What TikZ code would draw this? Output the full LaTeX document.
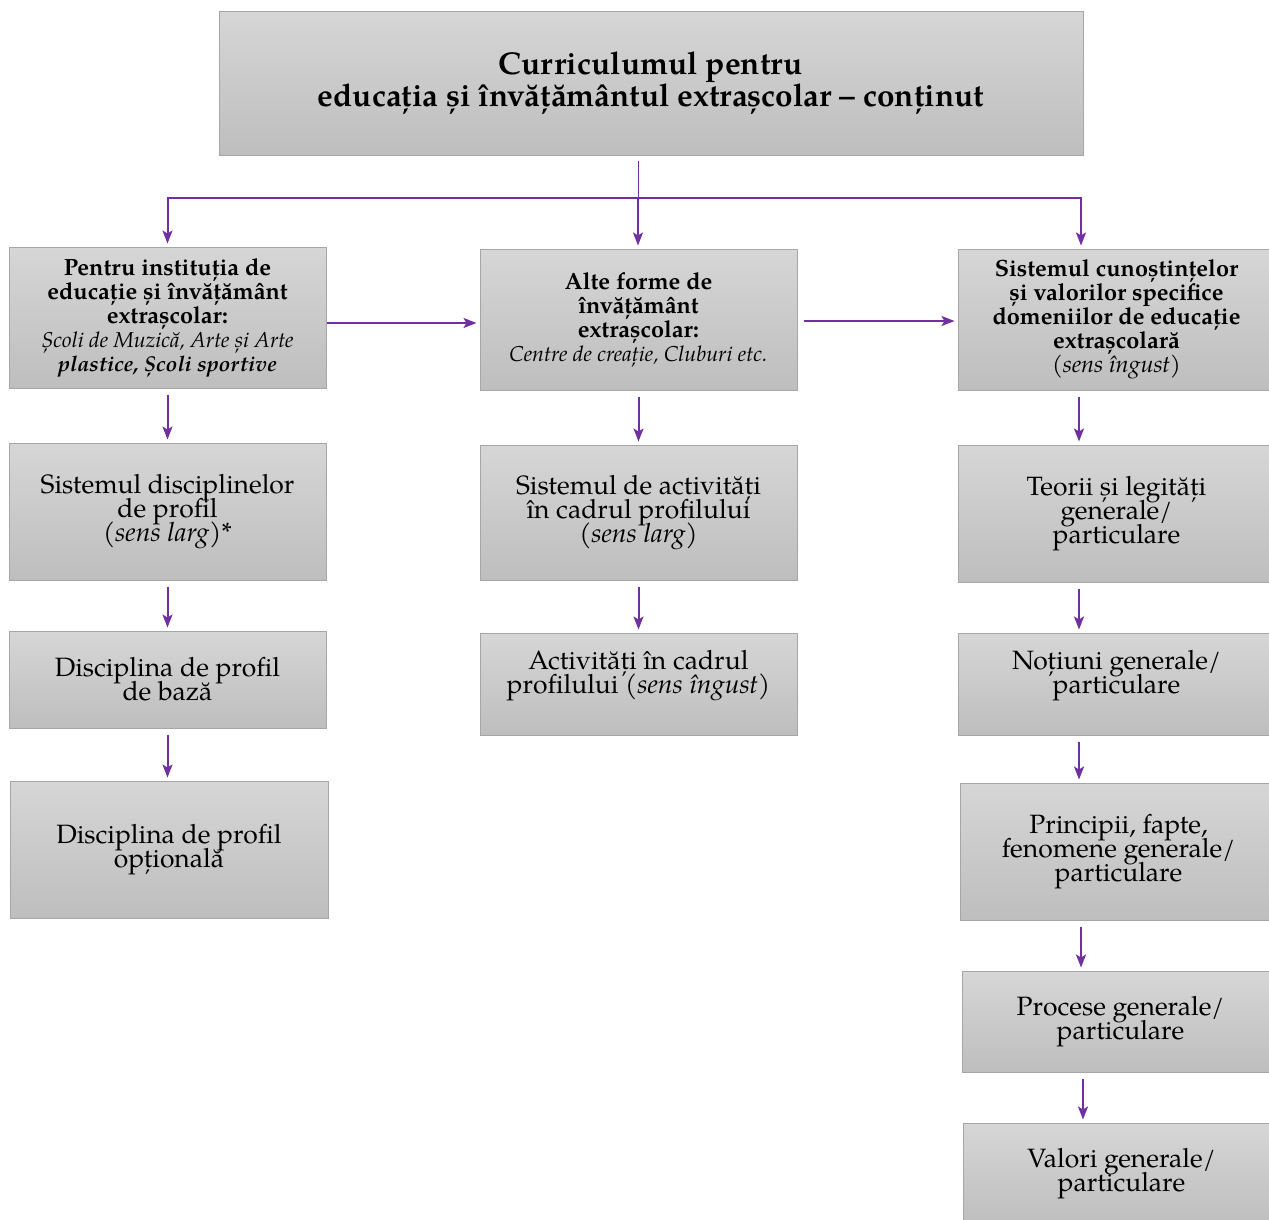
\documentclass[tikz,border=0pt]{standalone}
\usepackage{fontspec}
\setmainfont{texgyrepagella}[Extension=.otf, UprightFont=*-regular, BoldFont=*-bold,
	ItalicFont=*-italic, BoldItalicFont=*-bolditalic]
\usetikzlibrary{arrows.meta}
\definecolor{boxtop}{RGB}{214,214,214}
\definecolor{boxbot}{RGB}{190,190,190}
\definecolor{boxline}{RGB}{166,166,166}
\definecolor{lila}{RGB}{112,48,160}
\newcommand{\smallit}{\fontsize{21.5}{24}\selectfont\itshape}
\newcommand{\tightlines}{\lineskiplimit=-50pt\relax}
\begin{document}
\begin{tikzpicture}[
		x=1pt, y=-1pt,
		box/.style={draw=boxline, line width=1pt, top color=boxtop, bottom color=boxbot,
				align=center, inner sep=0pt, minimum width=317pt,
				font=\fontsize{26.5}{24}\selectfont\tightlines},
		headbox/.style={box, minimum height=141pt, font=\fontsize{23.5}{24}\selectfont\bfseries\tightlines},
		link/.style={draw=lila, line width=2pt},
		arr/.style={link, -{Stealth[length=13pt, width=10pt, inset=3pt]}, shorten <=6pt, shorten >=3pt},
	]
	\useasboundingbox (0,0) rectangle (1269,1219);
	\node[box, minimum width=864pt, minimum height=144pt, font=\fontsize{31.5}{32}\selectfont\bfseries\tightlines] (cur) at (651,83)
		{Curriculumul pentru\\ educația și învățământul extrașcolar – conținut};
	% first row
	\node[headbox] (inst) at (167.5,317.5) {Pentru instituția de\\ educație și învățământ\\ extrașcolar:\\
			{\mdseries\smallit Școli de Muzică, Arte și Arte}\\ {\smallit plastice, Școli sportive}};
	\node[headbox] (alte) at (638.5,319.5) {Alte forme de\\ învățământ\\ extrașcolar:\\
			{\mdseries\smallit Centre de creație, Cluburi etc.}};
	\node[headbox] (cun) at (1116.5,319.5) {Sistemul cunoștințelor\\ și valorilor specifice\\ domeniilor de educație\\
			extrașcolară\\ {\mdseries(\textit{sens îngust})}};
	% left column
	\node[box, minimum height=137pt] (disc) at (167.5,511.5) {Sistemul disciplinelor\\ de profil\\ (\textit{sens larg})*};
	\node[box, minimum height=97pt] (discBaza) at (167.5,679.5) {Disciplina de profil\\ de bază};
	\node[box, minimum width=318pt, minimum height=137pt] (discOpt) at (169,849.5) {Disciplina de profil\\ opțională};
	% middle column
	\node[box, minimum height=135pt] (act) at (638.5,512.5) {Sistemul de activități\\ în cadrul profilului\\ (\textit{sens larg})};
	\node[box, minimum height=102pt] (actIng) at (638.5,684) {Activități în cadrul\\ profilului (\textit{sens îngust})\\ \mbox{}};
	% right column
	\node[box, minimum height=137pt] (teorii) at (1116.5,513.5) {Teorii și legități\\ generale/\\ particulare};
	\node[box, minimum height=102pt] (notiuni) at (1116.5,684) {Noțiuni generale/\\ particulare\\ \mbox{}};
	\node[box, minimum height=137pt] (princ) at (1118.5,851.5) {Principii, fapte,\\ fenomene generale/\\ particulare};
	\node[box, minimum height=101pt] (proc) at (1120.5,1021.5) {Procese generale/\\ particulare};
	\node[box, minimum height=102pt] (valori) at (1121.5,1174) {Valori generale/\\ particulare};

	\coordinate (split) at (638,198);
	\draw[draw=lila, line width=1pt] ([xshift=-13pt, yshift=-5pt]cur.south) -- (split);
	\draw[arr, shorten <=0pt] (split) -| (inst.north);
	\draw[arr, shorten <=0pt] (split) -- (split |- alte.north);
	\draw[arr, shorten <=0pt] (split) -| ([xshift=-35.5pt]cun.north);

	\draw[arr, shorten <=0pt] ([yshift=-5.5pt]inst.east) -- ([yshift=-5.5pt]inst.east -| alte.west);
	\draw[arr] ([yshift=-1.5pt]alte.east) -- ([yshift=-1.5pt]alte.east -| cun.west);

	\foreach \a/\b in {inst/disc, disc/discBaza, discBaza/discOpt, alte/act, act/actIng}
	\draw[arr] (\a.south) -- (\a.south |- \b.north);
	\foreach \a/\b in {cun/teorii, teorii/notiuni, notiuni/princ, princ/proc, proc/valori}
	\draw[arr] ([xshift=-37.5pt]\a.south) -- ([xshift=-37.5pt]\a.south |- \b.north);
\end{tikzpicture}
\end{document}
